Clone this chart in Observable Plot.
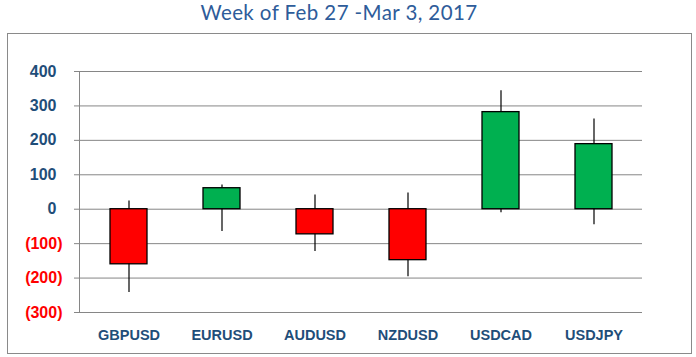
<!DOCTYPE html>
<html><head><meta charset="utf-8">
<script src="https://cdn.jsdelivr.net/npm/d3@7"></script>
<script src="https://cdn.jsdelivr.net/npm/@observablehq/plot@0.6"></script>
<style>
html,body{margin:0;padding:0;background:#fff;}
body{width:696px;height:357px;position:relative;overflow:hidden;font-family:"Liberation Sans",Arial,sans-serif;}
#title{position:absolute;left:0;top:0;width:696px;height:33px;margin:0;text-align:center;font-family:Lato,"Open Sans",sans-serif;font-size:20.5px;line-height:normal;letter-spacing:0.4px;color:#2E5C9A;font-weight:normal;}
#title span{position:relative;left:-9px;}
#border{position:absolute;left:7px;top:33px;width:683px;height:319px;border:1px solid #8a8a8a;pointer-events:none;}
#chart{position:absolute;left:0;top:33px;}
#chart svg{display:block;}
</style></head>
<body>
<div id="title"><span>Week of Feb 27 -Mar 3, 2017</span></div>
<div id="chart"></div>
<div id="border"></div>
<script>
const pairs = ["GBPUSD","EURUSD","AUDUSD","NZDUSD","USDCAD","USDJPY"];
const openVals = [0,0,0,0,0,0];
const closeVals = [-160,61,-73,-148,282,189];
const highVals = [24,70,41,47,344,262];
const lowVals = [-242,-65,-123,-196,-10,-45];
const yTicks = [-300,-200,-100,0,100,200,300,400];

const data = pairs.map((p,i)=>({pair:p, open:openVals[i], close:closeVals[i], high:highVals[i], low:lowVals[i]}));
const blue = "#1F4E79";
const red = "#FF0000";
const green = "#00B050";

const chart = Plot.plot({
  width: 696,
  height: 324,
  marginTop: 38,
  marginBottom: 45,
  marginLeft: 79,
  marginRight: 54,
  style: {fontFamily: "'Liberation Sans', Arial, sans-serif", background: "transparent"},
  x: {domain: pairs, padding: 0, label: null},
  y: {domain: [-300, 400], label: null},
  color: {type: "identity"},
  marks: [
    Plot.gridY(yTicks, {stroke: "#868686", strokeOpacity: 1, strokeWidth: 1}),
    Plot.frame({anchor: "left", stroke: "#868686", strokeWidth: 1}),
    Plot.axisY(yTicks.filter(d => d >= 0), {tickSize: 5, tickPadding: 18, stroke: "#868686", fill: blue, fontSize: 16, fontWeight: "bold", tickFormat: d => String(d), label: null}),
    Plot.axisY(yTicks.filter(d => d < 0), {tickSize: 5, tickPadding: 12, stroke: "#868686", fill: red, fontSize: 16, fontWeight: "bold", tickFormat: d => `(${-d})`, label: null}),
    Plot.axisX({tickSize: 0, tickPadding: 17, fill: blue, fontSize: 14.5, fontWeight: "bold", label: null}),
    Plot.ruleX(data, {x: "pair", y1: "low", y2: "high", stroke: "black", strokeWidth: 1.2}),
    Plot.barY(data, {x: "pair", y1: "open", y2: "close", fill: d => d.close < 0 ? red : green, stroke: "black", strokeWidth: 1.3, insetLeft: 28, insetRight: 28})
  ]
});
document.getElementById("chart").appendChild(chart);
</script>
</body></html>
